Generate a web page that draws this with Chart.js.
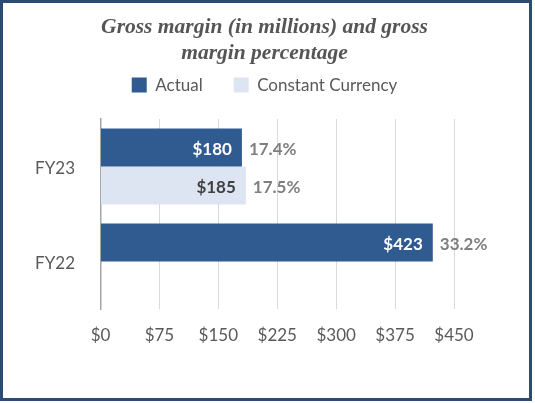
<!DOCTYPE html>
<html>
<head>
<meta charset="utf-8">
<script src="https://cdn.jsdelivr.net/npm/chart.js@4"></script>
<style>
  html, body { margin: 0; padding: 0; background: #ffffff; }
  #wrap { position: relative; width: 535px; height: 403px; background: #ffffff; }
  #frame { position: absolute; left: 0; top: 0; width: 532px; height: 401px; box-sizing: border-box; border: 3px solid #2c4a74; pointer-events: none; }
  canvas { display: block; }
</style>
</head>
<body>
<div id="wrap">
  <canvas id="c" width="535" height="403"></canvas>
  <div id="frame"></div>
</div>
<script>
// ---- data ----
const categories = ['FY23', 'FY22'];
const actualValues = [180, 423];
const constantValues = [185, null];
const actualPct = [17.4, 33.2];
const constantPct = [17.5, null];
const xTicks = [0, 75, 150, 225, 300, 375, 450];
const titleLines = ['Gross margin (in millions) and gross', 'margin percentage'];
const seriesNames = ['Actual', 'Constant Currency'];

const pctByDataset = [actualPct, constantPct];
const valueColors = ['#ffffff', '#404040'];

const labelPlugin = {
  id: 'barLabels',
  afterDatasetsDraw(chart) {
    const ctx = chart.ctx;
    ctx.save();
    chart.data.datasets.forEach((ds, di) => {
      const meta = chart.getDatasetMeta(di);
      meta.data.forEach((bar, i) => {
        const v = ds.data[i];
        if (v === null || v === undefined) return;
        const yMid = bar.y + 2;
        ctx.font = 'bold 17px Lato';
        ctx.textBaseline = 'middle';
        ctx.textAlign = 'right';
        ctx.fillStyle = valueColors[di];
        ctx.fillText('$' + v, bar.x - 10, yMid);
        const p = pctByDataset[di][i];
        if (p !== null && p !== undefined) {
          ctx.textAlign = 'left';
          ctx.fillStyle = '#7f7f7f';
          ctx.fillText(p.toFixed(1) + '%', bar.x + 7, yMid);
        }
      });
    });
    ctx.restore();
  }
};

new Chart(document.getElementById('c'), {
  type: 'bar',
  data: {
    labels: categories,
    datasets: [
      { label: seriesNames[0], data: actualValues, backgroundColor: '#305b91', barPercentage: 1, categoryPercentage: 0.8 },
      { label: seriesNames[1], data: constantValues, backgroundColor: '#dce5f1', barPercentage: 1, categoryPercentage: 0.8 }
    ]
  },
  options: {
    indexAxis: 'y',
    responsive: false,
    animation: false,
    devicePixelRatio: 1,
    layout: { padding: { left: 0, right: 6, top: 0, bottom: 0 } },
    plugins: {
      title: {
        display: true,
        text: titleLines,
        color: '#555555',
        font: { family: 'Liberation Serif', size: 21.5, weight: 'bold', style: 'italic', lineHeight: 1.21 },
        padding: { top: 14, bottom: -20.5 }
      },
      legend: {
        display: true,
        position: 'top',
        labels: {
          boxWidth: 15,
          boxHeight: 15,
          padding: 31,
          color: '#595959',
          font: { family: 'Lato', size: 17 }
        }
      },
      subtitle: {
        display: true,
        text: '',
        position: 'top',
        weight: 500,
        font: { size: 1, lineHeight: 1 },
        padding: { top: 0, bottom: 14.5 }
      },
      tooltip: { enabled: false }
    },
    scales: {
      x: {
        type: 'linear',
        position: 'bottom',
        min: 0,
        max: 450,
        afterBuildTicks(scale) { scale.ticks = xTicks.map(v => ({ value: v })); },
        ticks: {
          color: '#595959',
          font: { family: 'Lato', size: 17 },
          padding: 16,
          callback: (v) => '$' + v
        },
        grid: { display: true, color: '#d9d9d9', lineWidth: 1, drawTicks: false },
        border: { display: false },
        afterFit(scale) { scale.height = 94; }
      },
      y: {
        type: 'category',
        position: 'left',
        ticks: {
          color: '#595959',
          font: { family: 'Lato', size: 17 },
          padding: 25.5,
          labelOffset: 2
        },
        grid: { display: false, drawTicks: false },
        border: { display: true, color: '#a6a6a6', width: 1.5 },
        afterFit(scale) { scale.width = 100.5; }
      },
      yr: {
        type: 'linear',
        position: 'right',
        display: true,
        ticks: { display: false },
        grid: { display: false, drawTicks: false },
        border: { display: false },
        afterFit(scale) { scale.width = 75; }
      }
    }
  },
  plugins: [labelPlugin]
});
</script>
</body>
</html>
